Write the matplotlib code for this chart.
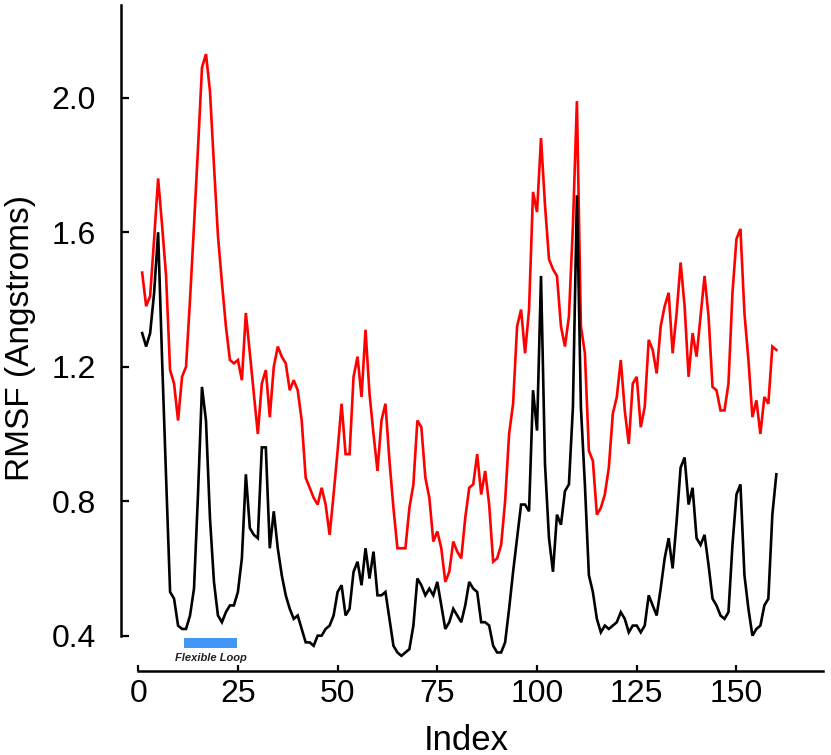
import numpy as np
import matplotlib
matplotlib.use("Agg")
import matplotlib.pyplot as plt

# ----------------------------
# RMSF per residue
# ----------------------------
index = np.arange(1, 161)

rmsf_red = [
    1.48, 1.38, 1.41, 1.58, 1.76, 1.62, 1.47, 1.19, 1.15, 1.04,
    1.17, 1.20, 1.40, 1.62, 1.85, 2.09, 2.13, 2.02, 1.80, 1.59,
    1.45, 1.32, 1.22, 1.21, 1.22, 1.16, 1.36, 1.24, 1.12, 1.00,
    1.15, 1.19, 1.05, 1.20, 1.26, 1.23, 1.21, 1.13, 1.16, 1.13,
    1.04, 0.87, 0.84, 0.81, 0.79, 0.84, 0.79, 0.70, 0.82, 0.95,
    1.09, 0.94, 0.94, 1.17, 1.23, 1.11, 1.31, 1.12, 1.00, 0.89,
    1.04, 1.09, 0.92, 0.78, 0.66, 0.66, 0.66, 0.78, 0.85, 1.04,
    1.02, 0.87, 0.81, 0.68, 0.71, 0.66, 0.56, 0.59, 0.68, 0.65,
    0.63, 0.75, 0.84, 0.85, 0.94, 0.82, 0.89, 0.79, 0.62, 0.63,
    0.67, 0.80, 1.00, 1.09, 1.32, 1.37, 1.24, 1.37, 1.72, 1.66,
    1.88, 1.68, 1.52, 1.49, 1.47, 1.32, 1.26, 1.35, 1.62, 1.99,
    1.32, 1.24, 0.95, 0.92, 0.76, 0.78, 0.82, 0.90, 1.06, 1.11,
    1.22, 1.07, 0.97, 1.15, 1.17, 1.02, 1.08, 1.28, 1.25, 1.18,
    1.32, 1.38, 1.42, 1.24, 1.36, 1.51, 1.38, 1.17, 1.30, 1.23,
    1.35, 1.47, 1.35, 1.14, 1.13, 1.07, 1.07, 1.15, 1.42, 1.58,
    1.61, 1.36, 1.22, 1.05, 1.10, 1.00, 1.11, 1.09, 1.26, 1.25,
]

rmsf_black = [
    1.30, 1.26, 1.30, 1.42, 1.60, 1.22, 0.87, 0.53, 0.51, 0.43,
    0.42, 0.42, 0.46, 0.54, 0.82, 1.14, 1.04, 0.75, 0.56, 0.46,
    0.44, 0.47, 0.49, 0.49, 0.53, 0.63, 0.88, 0.72, 0.70, 0.69,
    0.96, 0.96, 0.66, 0.77, 0.66, 0.58, 0.52, 0.48, 0.45, 0.46,
    0.42, 0.38, 0.38, 0.37, 0.40, 0.40, 0.42, 0.43, 0.46, 0.53,
    0.55, 0.46, 0.48, 0.59, 0.62, 0.55, 0.66, 0.57, 0.65, 0.52,
    0.52, 0.53, 0.45, 0.37, 0.35, 0.34, 0.35, 0.36, 0.43, 0.57,
    0.55, 0.52, 0.54, 0.52, 0.56, 0.49, 0.42, 0.44, 0.48, 0.46,
    0.44, 0.49, 0.56, 0.54, 0.53, 0.44, 0.44, 0.43, 0.37, 0.35,
    0.35, 0.38, 0.48, 0.59, 0.69, 0.79, 0.79, 0.77, 1.13, 1.01,
    1.47, 0.91, 0.69, 0.59, 0.76, 0.73, 0.83, 0.85, 1.08, 1.71,
    1.08, 0.85, 0.58, 0.53, 0.45, 0.41, 0.43, 0.42, 0.43, 0.44,
    0.47, 0.45, 0.41, 0.43, 0.43, 0.41, 0.43, 0.52, 0.49, 0.46,
    0.54, 0.63, 0.69, 0.60, 0.74, 0.90, 0.93, 0.79, 0.84, 0.69,
    0.67, 0.70, 0.61, 0.51, 0.49, 0.46, 0.45, 0.47, 0.67, 0.82,
    0.85, 0.58, 0.48, 0.40, 0.42, 0.43, 0.49, 0.51, 0.76, 0.88,
]

loop_region = (11.4, 24.9)
loop_label = "Flexible Loop"

x_ticks = [0, 25, 50, 75, 100, 125, 150]
y_ticks = [0.4, 0.8, 1.2, 1.6, 2.0]
y_tick_labels = ["0.4", "0.8", "1.2", "1.6", "2.0"]

plt.rcParams['font.family'] = ['Liberation Sans', 'DejaVu Sans']

fig = plt.figure(figsize=(8.31, 7.55), dpi=100)
ax = fig.add_axes([0.1452, 0.1113, 0.8447, 0.8821])

ax.plot(index, rmsf_red, color='#ff0000', lw=1.9, solid_joinstyle='miter')
ax.plot(index, rmsf_black, color='black', lw=1.9, solid_joinstyle='miter')

# flexible loop marker
ax.hlines(0.377, loop_region[0], loop_region[1], color='#4095f5', lw=7.2,
          capstyle='butt')
ax.text(np.mean(loop_region), 0.333, loop_label, ha='center', va='center',
        fontsize=8, fontweight='bold', fontstyle='italic', color='#222222')

ax.set_xlim(-4.39, 171.6)
ax.set_ylim(0.295, 2.276)

for side in ['top', 'right']:
    ax.spines[side].set_visible(False)
ax.spines['left'].set_bounds(0.4, 2.276)
ax.spines['bottom'].set_bounds(0, 171.6)
ax.spines['left'].set_linewidth(1.8)
ax.spines['bottom'].set_linewidth(1.8)

ax.set_xticks(x_ticks)
ax.set_yticks(y_ticks)
ax.set_yticklabels(y_tick_labels)
ax.tick_params(axis='x', direction='in', length=4.5, width=1.6, pad=6,
               labelsize=23)
ax.tick_params(axis='y', direction='in', length=5.5, width=1.6, pad=18,
               labelsize=23)

ax.set_xlabel("Index", fontsize=25)
ax.set_ylabel("RMSF (Angstroms)", fontsize=24)
ax.xaxis.set_label_coords(0.493, -0.079)
ax.yaxis.set_label_coords(-0.12, 0.5)

fig.savefig("out.png", dpi=100)
